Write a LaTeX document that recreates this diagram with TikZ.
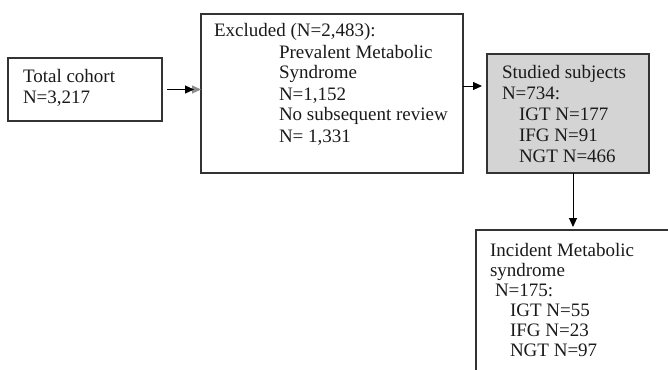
\documentclass[tikz,border=0pt]{standalone}
\usepackage{fontspec}
\setmainfont{Liberation Serif}
\usetikzlibrary{arrows.meta}
\definecolor{boxline}{HTML}{333333}
\definecolor{studfill}{HTML}{D4D4D4}
\definecolor{txt}{HTML}{1A1A1A}
\definecolor{greytip}{HTML}{8C8C8C}
\begin{document}
\begin{tikzpicture}[x=1pt,y=-1pt,
  boxn/.style={draw=boxline,line width=1.3pt,inner sep=0pt,outer sep=0pt,anchor=north west},
  txtn/.style={text=txt,inner sep=0pt,outer sep=0pt,anchor=base west,font=\fontsize{19}{21}\selectfont},
  txtm/.style={text=txt,inner sep=0pt,outer sep=0pt,anchor=base west,font=\fontsize{19}{20}\selectfont},
  blackarrow/.style={draw=black,line width=1pt,-{Triangle[length=9pt,width=8pt]}},
  greyarrow/.style={draw=greytip,line width=1pt,-{Triangle[length=9pt,width=8pt]}}]
\useasboundingbox (0,0) rectangle (668,369);
\clip (0,0) rectangle (668,369);
% boxes
\node[boxn,minimum width=154pt,minimum height=63pt] (total) at (8,58) {};
\node[boxn,minimum width=262pt,minimum height=159pt] (excl) at (201,14) {};
\node[boxn,fill=studfill,minimum width=162pt,minimum height=119pt] (stud) at (487,54) {};
\node[boxn,minimum width=230pt,minimum height=170pt] (inc) at (476,230) {};
% texts
\node[txtn] (totalt) at (23,82) {\begin{tabular}[t]{@{}l@{}}Total cohort\\N=3,217\end{tabular}};
\node[txtn] (exclt) at (214,37) {\begin{tabular}[t]{@{}l@{}}Excluded (N=2,483):\\
\hspace*{65pt}Prevalent Metabolic\\
\hspace*{65pt}Syndrome\\
\hspace*{65pt}N=1,152\\
\hspace*{65pt}No subsequent review\\
\hspace*{65pt}N= 1,331\end{tabular}};
\node[txtn] (studt) at (502,78) {\begin{tabular}[t]{@{}l@{}}Studied subjects\\
N=734:\\
\hspace*{17pt}IGT N=177\\
\hspace*{17pt}IFG N=91\\
\hspace*{17pt}NGT N=466\end{tabular}};
\node[txtm] (inct) at (490,256) {\begin{tabular}[t]{@{}l@{}}Incident Metabolic\\
syndrome\\
\hspace*{5pt}N=175:\\
\hspace*{20pt}IGT N=55\\
\hspace*{20pt}IFG N=23\\
\hspace*{20pt}NGT N=97\end{tabular}};
% connectors
\draw[greyarrow,shorten <=5pt] (total.east) -- (total.east -| excl.west);
\draw[blackarrow,shorten <=5pt,shorten >=7pt] (total.east) -- (total.east -| excl.west);
\coordinate (e2s) at (463,86);
\draw[blackarrow,shorten >=5pt] (e2s) -- (e2s -| stud.west);
\coordinate (s2i) at (573,173);
\draw[blackarrow,shorten >=3pt] (s2i) -- (s2i |- inc.north);
\end{tikzpicture}
\end{document}
